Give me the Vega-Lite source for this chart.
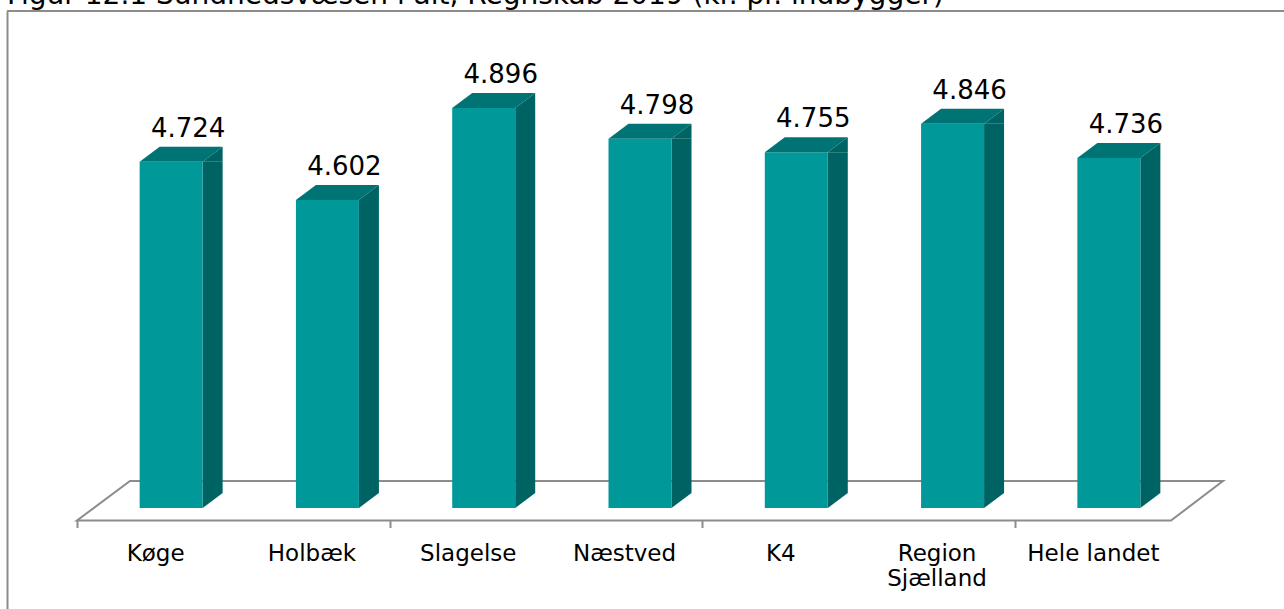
{
  "$schema": "https://vega.github.io/schema/vega-lite/v6.json",
  "autosize": "none",
  "padding": {"left": 7, "top": 11, "right": 0, "bottom": 0},
  "width": 1277,
  "height": 598,
  "background": "#ffffff",
  "title": {
    "text": "Figur 12.1 Sundhedsvæsen i alt, Regnskab 2019 (kr. pr. indbygger)",
    "anchor": "start",
    "frame": "group",
    "font": "DejaVu Sans",
    "fontSize": 28,
    "fontWeight": "normal",
    "color": "#000000",
    "baseline": "alphabetic",
    "offset": -22
  },
  "datasets": {
    "bars": [
      {"cat": "Køge", "v": 4.724},
      {"cat": "Holbæk", "v": 4.602},
      {"cat": "Slagelse", "v": 4.896},
      {"cat": "Næstved", "v": 4.798},
      {"cat": "K4", "v": 4.755},
      {"cat": "Region Sjælland", "v": 4.846},
      {"cat": "Hele landet", "v": 4.736}
    ],
    "one": [{"k": "frame"}]
  },
  "layer": [
    {
      "data": {"name": "one"},
      "mark": {"type": "point", "shape": "M-703.3,12.5L390.7,12.5L442.7,-27L-650.3,-27Z", "size": 4, "filled": false, "stroke": "#8c8c8c", "strokeWidth": 2, "opacity": 1},
      "encoding": {
        "x": {"datum": "K4", "type": "nominal",
          "scale": {"type": "band", "domain": ["Køge", "Holbæk", "Slagelse", "Næstved", "K4", "Region Sjælland", "Hele landet"], "range": [70, 1164], "paddingInner": 0, "paddingOuter": 0},
          "axis": {"title": null, "domain": false, "labelAngle": 0, "labelFont": "DejaVu Sans", "labelFontSize": 23, "labelColor": "#000000", "labelPadding": 15, "labelLineHeight": 25, "labelExpr": "datum.label == 'Region Sjælland' ? ['Region', 'Sjælland'] : datum.label", "tickBand": "extent", "tickExtra": true, "tickSize": 7, "tickWidth": 2, "tickColor": "#8c8c8c", "tickOpacity": {"condition": {"test": "datum.extra || indexof(['Holbæk','Næstved','Region Sjælland'], datum.value) >= 0", "value": 1}, "value": 0}, "offset": -88.5, "grid": false, "labelOverlap": false}},
        "y": {"datum": 3.618, "type": "quantitative",
          "scale": {"domain": [3.2954, 5.2059], "nice": false, "zero": false},
          "axis": {"title": null, "labels": false, "ticks": false, "grid": false, "domain": true, "domainColor": "#8c8c8c", "domainWidth": 2}}
      }
    },
    {
      "data": {"name": "one"},
      "mark": {"type": "rule", "stroke": "#8c8c8c", "strokeWidth": 2},
      "encoding": {
        "y": {"datum": 5.2059, "type": "quantitative",
          "scale": {"domain": [3.2954, 5.2059], "nice": false, "zero": false},
          "axis": {"title": null, "labels": false, "ticks": false, "grid": false, "domain": true, "domainColor": "#8c8c8c", "domainWidth": 2}}
      }
    },
    {
      "data": {"name": "bars"},
      "layer": [
        {
          "mark": {"type": "bar", "width": 20, "xOffset": 57.5, "y2Offset": -15, "fill": "#006363"},
          "encoding": {
            "y": {"field": "v", "type": "quantitative"},
            "y2": {"datum": 3.618}
          }
        },
        {
          "mark": {"type": "point", "shape": "M31.5,0L31.5,-15L51.5,-15Z", "size": 4, "filled": true, "fill": "#006363", "strokeWidth": 0, "opacity": 1, "xOffset": 16},
          "encoding": {
            "y": {"datum": 3.618, "type": "quantitative"}
          }
        },
        {
          "mark": {"type": "bar", "width": 63, "xOffset": 16, "fill": "#009898"},
          "encoding": {
            "y": {"field": "v", "type": "quantitative"},
            "y2": {"datum": 3.618}
          }
        },
        {
          "mark": {"type": "point", "shape": "M-31.5,0L31.5,0L51.5,-15L-11.5,-15Z", "size": 4, "filled": true, "fill": "#007474", "strokeWidth": 0, "opacity": 1, "xOffset": 16},
          "encoding": {
            "y": {"field": "v", "type": "quantitative"}
          }
        },
        {
          "mark": {"type": "point", "shape": "M31.5,0L51.5,-15L51.5,0Z", "size": 4, "filled": true, "fill": "#006363", "strokeWidth": 0, "opacity": 1, "xOffset": 16},
          "encoding": {
            "y": {"field": "v", "type": "quantitative"}
          }
        },
        {
          "mark": {"type": "text", "font": "DejaVu Sans", "fontSize": 26, "color": "#000000", "baseline": "alphabetic", "align": "center", "dy": -25, "xOffset": 33},
          "encoding": {
            "y": {"field": "v", "type": "quantitative"},
            "text": {"field": "v", "type": "quantitative", "format": ".3f"}
          }
        }
      ],
      "encoding": {
        "x": {"field": "cat", "type": "nominal",
          "scale": {"type": "band", "domain": ["Køge", "Holbæk", "Slagelse", "Næstved", "K4", "Region Sjælland", "Hele landet"], "range": [70, 1164], "paddingInner": 0, "paddingOuter": 0},
          "axis": {"title": null, "domain": false, "labelAngle": 0, "labelFont": "DejaVu Sans", "labelFontSize": 23, "labelColor": "#000000", "labelPadding": 15, "labelLineHeight": 25, "labelExpr": "datum.label == 'Region Sjælland' ? ['Region', 'Sjælland'] : datum.label", "tickBand": "extent", "tickExtra": true, "tickSize": 7, "tickWidth": 2, "tickColor": "#8c8c8c", "tickOpacity": {"condition": {"test": "datum.extra || indexof(['Holbæk','Næstved','Region Sjælland'], datum.value) >= 0", "value": 1}, "value": 0}, "offset": -88.5, "grid": false, "labelOverlap": false}},
        "y": {"type": "quantitative",
          "scale": {"domain": [3.2954, 5.2059], "nice": false, "zero": false},
          "axis": {"title": null, "labels": false, "ticks": false, "grid": false, "domain": true, "domainColor": "#8c8c8c", "domainWidth": 2}}
      }
    }
  ],
  "config": {
    "view": {"stroke": null},
    "font": "DejaVu Sans"
  }
}
